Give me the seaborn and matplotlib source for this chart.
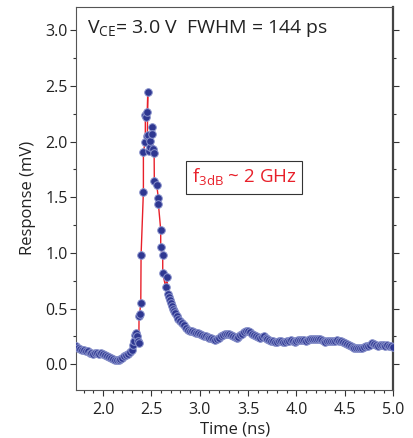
import matplotlib
matplotlib.use('Agg')
import matplotlib.pyplot as plt
import matplotlib.ticker as mticker
import seaborn as sns
import pandas as pd

# baseline before the pulse (ns, mV)
t_pre = [1.72, 1.74, 1.76, 1.78, 1.80, 1.82, 1.84, 1.86, 1.88, 1.90,
         1.92, 1.94, 1.96, 1.98, 2.00, 2.02, 2.04, 2.06, 2.08, 2.10,
         2.12, 2.14, 2.16, 2.18, 2.20, 2.22, 2.24, 2.26, 2.28, 2.30]
v_pre = [0.16, 0.145, 0.135, 0.13, 0.125, 0.12, 0.115, 0.105, 0.10, 0.095,
         0.10, 0.10, 0.095, 0.10, 0.095, 0.085, 0.075, 0.065, 0.06, 0.045,
         0.035, 0.035, 0.04, 0.045, 0.06, 0.075, 0.085, 0.095, 0.11, 0.13]

# pulse, in acquisition order
t_peak = [2.31, 2.32, 2.335, 2.341, 2.355, 2.362, 2.37, 2.372, 2.378, 2.39,
          2.393, 2.417, 2.417, 2.437, 2.437, 2.447, 2.458, 2.462, 2.458, 2.468,
          2.476, 2.483, 2.49, 2.507, 2.507, 2.515, 2.528, 2.53, 2.555, 2.572,
          2.572, 2.596, 2.596, 2.617, 2.617, 2.648, 2.659, 2.675, 2.68]
v_peak = [0.17, 0.21, 0.26, 0.28, 0.25, 0.21, 0.19, 0.43, 0.45, 0.55,
          0.98, 1.55, 1.91, 2.00, 2.24, 2.22, 2.27, 2.45, 2.05, 2.06,
          1.92, 1.95, 2.01, 2.13, 2.07, 1.93, 1.90, 1.65, 1.61, 1.49,
          1.44, 1.21, 1.05, 0.98, 0.82, 0.69, 0.78, 0.63, 0.60]

# tail after the pulse
t_post = [2.69, 2.70, 2.71, 2.72, 2.73, 2.74, 2.76, 2.78, 2.80, 2.82,
          2.84, 2.86, 2.88, 2.90, 2.92, 2.94, 2.96, 2.98, 3.00, 3.02,
          3.04, 3.06, 3.08, 3.10, 3.12, 3.14, 3.16, 3.18, 3.20, 3.22,
          3.24, 3.26, 3.28, 3.30, 3.32, 3.34, 3.36, 3.38, 3.40, 3.42,
          3.44, 3.46, 3.48, 3.50, 3.52, 3.54, 3.56, 3.58, 3.60, 3.62,
          3.64, 3.66, 3.68, 3.70, 3.72, 3.74, 3.76, 3.78, 3.80, 3.82,
          3.84, 3.86, 3.88, 3.90, 3.92, 3.94, 3.96, 3.98, 4.00, 4.02,
          4.04, 4.06, 4.08, 4.10, 4.12, 4.14, 4.16, 4.18, 4.20, 4.22,
          4.24, 4.26, 4.28, 4.30, 4.32, 4.34, 4.36, 4.38, 4.40, 4.42,
          4.44, 4.46, 4.48, 4.50, 4.52, 4.54, 4.56, 4.58, 4.60, 4.62,
          4.64, 4.66, 4.68, 4.70, 4.72, 4.74, 4.76, 4.78, 4.80, 4.82,
          4.84, 4.86, 4.88, 4.90, 4.92, 4.94, 4.96, 4.98, 5.00]
v_post = [0.575, 0.55, 0.52, 0.50, 0.48, 0.46, 0.43, 0.41, 0.39, 0.37,
          0.35, 0.325, 0.31, 0.30, 0.295, 0.29, 0.285, 0.28, 0.275, 0.265,
          0.255, 0.25, 0.245, 0.24, 0.235, 0.23, 0.22, 0.225, 0.24, 0.25,
          0.26, 0.27, 0.275, 0.27, 0.26, 0.25, 0.245, 0.24, 0.245, 0.26,
          0.275, 0.29, 0.30, 0.30, 0.29, 0.275, 0.26, 0.25, 0.245, 0.24,
          0.245, 0.25, 0.24, 0.225, 0.215, 0.21, 0.205, 0.20, 0.20, 0.205,
          0.205, 0.20, 0.20, 0.205, 0.21, 0.215, 0.21, 0.20, 0.205, 0.215,
          0.22, 0.22, 0.215, 0.21, 0.22, 0.225, 0.225, 0.23, 0.23, 0.23,
          0.225, 0.22, 0.21, 0.20, 0.205, 0.21, 0.21, 0.205, 0.21, 0.215,
          0.21, 0.205, 0.20, 0.195, 0.185, 0.175, 0.165, 0.155, 0.15, 0.145,
          0.15, 0.145, 0.15, 0.155, 0.16, 0.165, 0.17, 0.19, 0.18, 0.17,
          0.165, 0.175, 0.175, 0.17, 0.165, 0.17, 0.165, 0.16, 0.155]

df = pd.DataFrame({'t': t_pre + t_peak + t_post, 'v': v_pre + v_peak + v_post})

sns.set_theme(style='ticks')
plt.rcParams['font.family'] = ['Open Sans', 'DejaVu Sans']
plt.rcParams['mathtext.fontset'] = 'custom'
plt.rcParams['mathtext.rm'] = 'Open Sans'

fig = plt.figure(figsize=(4.13, 4.38), dpi=100)
ax = fig.add_axes([0.184, 0.11, 0.768, 0.874])

sns.lineplot(data=df, x='t', y='v', sort=False, estimator=None, ax=ax,
             color='#e8202a', linewidth=1.0, zorder=2)
sns.scatterplot(data=df, x='t', y='v', ax=ax, s=30, color='#2e3791',
                edgecolor='#8a93cc', linewidth=0.7, zorder=3)

ax.set_xlim(1.72, 5.0)
ax.set_ylim(-0.23, 3.21)
ax.xaxis.set_major_locator(mticker.MultipleLocator(0.5))
ax.xaxis.set_minor_locator(mticker.MultipleLocator(0.1))
ax.yaxis.set_major_locator(mticker.MultipleLocator(0.5))
ax.yaxis.set_minor_locator(mticker.MultipleLocator(0.25))
ax.xaxis.set_major_formatter(mticker.FormatStrFormatter('%.1f'))
ax.yaxis.set_major_formatter(mticker.FormatStrFormatter('%.1f'))
ax.tick_params(axis='both', which='major', labelsize=11.5, length=4,
               width=0.8, color='#333333', labelcolor='#222222', pad=2)
ax.tick_params(axis='x', which='major', pad=5)
ax.tick_params(axis='both', which='minor', length=2.5, width=0.8, color='#333333')
ax.tick_params(axis='y', which='both', right=True, labelright=False)

for side in ['left', 'bottom', 'top']:
    ax.spines[side].set_color('#555555')
    ax.spines[side].set_linewidth(0.8)
ax.spines['right'].set_color('#444444')
ax.spines['right'].set_linewidth(1.6)

ax.set_xlabel('Time (ns)', fontsize=12, color='#222222', labelpad=2)
ax.set_ylabel('Response (mV)', fontsize=12, color='#222222', labelpad=7)

ax.text(0.035, 0.945, r'V$_{\mathregular{CE}}$= 3.0 V  FWHM = 144 ps',
        transform=ax.transAxes, fontsize=14, color='#222222',
        ha='left', va='center')
ax.text(0.365, 0.555, r'f$_{\mathregular{3dB}}$ ~ 2 GHz',
        transform=ax.transAxes, fontsize=13.5, color='#e8202a',
        ha='left', va='center',
        bbox=dict(boxstyle='square,pad=0.3', facecolor='white',
                  edgecolor='#333333', linewidth=0.8))

fig.savefig('out.png', dpi=100)
